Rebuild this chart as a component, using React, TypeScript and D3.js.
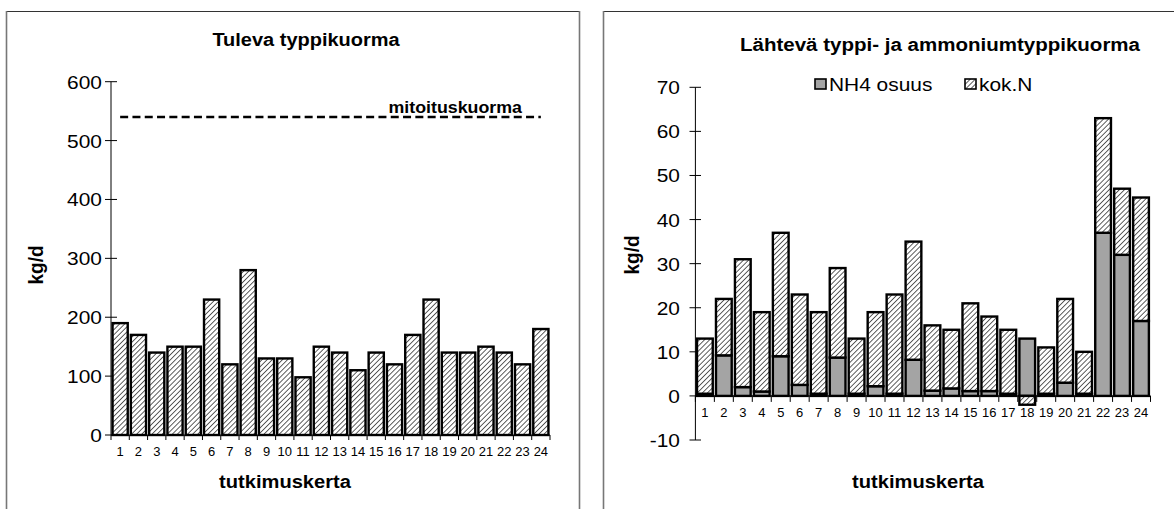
import React from 'react';
import * as d3 from 'd3';

// ---------- data ----------
const categories = ['1','2','3','4','5','6','7','8','9','10','11','12','13','14','15','16','17','18','19','20','21','22','23','24'];
const inflowLoad = [190,170,140,150,150,230,120,280,130,130,98,150,140,110,140,120,170,230,140,140,150,140,120,180];
const designLoad = 540;
const designLabel = 'mitoituskuorma';
const nh4Share = [0.5,9.2,2,1,9,2.5,0.5,8.7,0.5,2.2,0.5,8.2,1.2,1.7,1.1,1.1,0.5,13,0.5,3,0.5,37,32,17];
const totNRest = [12.5,12.8,29,18,28,20.5,18.5,20.3,12.5,16.8,22.5,26.8,14.8,13.3,19.9,16.9,14.5,-2,10.5,19,9.5,26,15,28];
const leftTicks = [0,100,200,300,400,500,600];
const rightTicks = [-10,0,10,20,30,40,50,60,70];
const leftTitle = 'Tuleva typpikuorma';
const rightTitle = 'Lähtevä typpi- ja ammoniumtyppikuorma';
const yTitle = 'kg/d';
const xTitle = 'tutkimuskerta';
const legendLabels = ['NH4 osuus', 'kok.N'];

const FONT = '"Liberation Sans", Arial, Helvetica, sans-serif';
const SX = 1.1;
const GRAY = '#a4a4a4';

function T({ x, y, size, bold = false, anchor = 'start', children, rotate = false, sx = SX }: any) {
  const tr = rotate
    ? `translate(${x},${y}) rotate(-90) scale(1,${sx})`
    : `translate(${x},${y}) scale(${sx},1)`;
  return (
    <text transform={tr} fontFamily={FONT} fontSize={size} fontWeight={bold ? 'bold' : 'normal'}
      textAnchor={anchor} fill="#000">{children}</text>
  );
}

export default function App() {
  // ---------- left chart ----------
  const lx = d3.scaleBand<string>().domain(categories).range([111, 550]).paddingInner(0.17).paddingOuter(0.085);
  const ly = d3.scaleLinear().domain([0, 600]).range([435, 81.7]);
  const lStep = lx.step();

  // ---------- right chart ----------
  const rx = d3.scaleBand<string>().domain(categories).range([695.4, 1150.5]).paddingInner(0.17).paddingOuter(0.085);
  const ry = d3.scaleLinear().domain([-10, 70]).range([440, 87.3]);
  const rStep = rx.step();

  const rows = categories.map((c, i) => ({ cat: c, nh4: nh4Share[i], kokN: totNRest[i] }));
  const stacked = d3.stack<any>().keys(['nh4', 'kokN']).offset(d3.stackOffsetDiverging)(rows);

  const line = d3.line<number>()
    .x((_, i) => (lx(categories[i]) as number) + lx.bandwidth() / 2)
    .y(d => ly(d));
  const designSeries = categories.map(() => designLoad);

  return (
    <svg width={1174} height={509} style={{ position: 'absolute', left: 0, top: 0, background: '#fff' }}>
      <defs>
        <pattern id="hatch" width="3.6" height="3.6" patternUnits="userSpaceOnUse" patternTransform="rotate(45)">
          <rect width="3.6" height="3.6" fill="#fff" />
          <line x1="0" y1="0" x2="0" y2="3.6" stroke="#2a2a2a" strokeWidth="1.5" />
        </pattern>
      </defs>
      <rect x={0} y={0} width={1174} height={509} fill="#fff" />

      {/* frames */}
      <line x1={6} y1={11.5} x2={580} y2={11.5} stroke="#333" strokeWidth={1} />
      <line x1={6.5} y1={11} x2={6.5} y2={520} stroke="#777" strokeWidth={1.6} />
      <line x1={579.5} y1={11} x2={579.5} y2={520} stroke="#777" strokeWidth={1.6} />
      <line x1={603} y1={11.5} x2={1180} y2={11.5} stroke="#333" strokeWidth={1} />
      <line x1={603.5} y1={11} x2={603.5} y2={520} stroke="#777" strokeWidth={1.6} />

      {/* ===== LEFT CHART ===== */}
      <T x={306} y={46} size={18.5} bold anchor="middle" sx={1.08}>{leftTitle}</T>
      {/* y axis */}
      <line x1={111} y1={ly(600)} x2={111} y2={ly(0)} stroke="#000" strokeWidth={1} />
      {leftTicks.map(t => (
        <g key={'lt' + t}>
          <line x1={105} x2={117} y1={ly(t)} y2={ly(t)} stroke="#000" strokeWidth={1} />
          <T x={102} y={ly(t) + 7} size={19} anchor="end">{t}</T>
        </g>
      ))}
      {/* bars */}
      {inflowLoad.map((v, i) => (
        <rect key={'lb' + i} x={lx(categories[i])} y={ly(v)} width={lx.bandwidth()} height={ly(0) - ly(v)}
          fill="url(#hatch)" stroke="#000" strokeWidth={2.4} />
      ))}
      {/* x axis */}
      <line x1={111} x2={550} y1={ly(0)} y2={ly(0)} stroke="#000" strokeWidth={1.2} />
      {d3.range(25).map(i => (
        <line key={'lxt' + i} x1={111 + i * lStep} x2={111 + i * lStep} y1={ly(0)} y2={ly(0) + 5} stroke="#000" strokeWidth={1} />
      ))}
      {categories.map(c => (
        <T key={'lxl' + c} x={(lx(c) as number) + lx.bandwidth() / 2} y={456} size={12} anchor="middle" sx={1.08}>{c}</T>
      ))}
      {/* design load */}
      <path d={line(designSeries) as string} fill="none" stroke="#000" strokeWidth={2.6} strokeDasharray="8,4.3" />
      <T x={522} y={113} size={16.5} bold anchor="end" sx={1.08}>{designLabel}</T>
      <T x={43} y={265} size={19} bold anchor="middle" rotate>{yTitle}</T>
      <T x={285} y={488} size={19} bold anchor="middle" sx={1.06}>{xTitle}</T>

      {/* ===== RIGHT CHART ===== */}
      <T x={940} y={51} size={19} bold anchor="middle" sx={1.08}>{rightTitle}</T>
      {/* legend */}
      <rect x={815} y={79} width={11} height={10} fill={GRAY} stroke="#000" strokeWidth={1.6} />
      <T x={829} y={91} size={19}>{legendLabels[0]}</T>
      <rect x={965} y={79} width={11} height={10} fill="url(#hatch)" stroke="#000" strokeWidth={1.6} />
      <T x={979} y={91} size={19}>{legendLabels[1]}</T>
      {/* y axis */}
      <line x1={695.4} y1={ry(70)} x2={695.4} y2={ry(-10)} stroke="#000" strokeWidth={1} />
      {rightTicks.map(t => (
        <g key={'rt' + t}>
          <line x1={689.5} x2={701} y1={ry(t)} y2={ry(t)} stroke="#000" strokeWidth={1} />
          <T x={680} y={ry(t) + 7} size={19} anchor="end">{t}</T>
        </g>
      ))}
      {/* stacked bars */}
      {stacked.map(series => series.map((d, i) => {
        const y0 = ry(Math.max(d[0], d[1]));
        const y1 = ry(Math.min(d[0], d[1]));
        if (y1 - y0 <= 0) return null;
        return (
          <rect key={series.key + i} x={rx(categories[i])} y={y0} width={rx.bandwidth()} height={y1 - y0}
            fill={series.key === 'nh4' ? GRAY : 'url(#hatch)'} stroke="#000" strokeWidth={2.4} />
        );
      }))}
      {/* x axis */}
      <line x1={695.4} x2={1150.5} y1={ry(0)} y2={ry(0)} stroke="#000" strokeWidth={1.2} />
      {d3.range(25).map(i => (
        <line key={'rxt' + i} x1={695.4 + i * rStep} x2={695.4 + i * rStep} y1={ry(0)} y2={ry(0) + 6} stroke="#000" strokeWidth={1} />
      ))}
      {categories.map(c => (
        <T key={'rxl' + c} x={(rx(c) as number) + rx.bandwidth() / 2} y={416.5} size={12} anchor="middle" sx={1.08}>{c}</T>
      ))}
      <T x={639} y={255} size={19} bold anchor="middle" rotate>{yTitle}</T>
      <T x={918} y={488} size={19} bold anchor="middle" sx={1.06}>{xTitle}</T>
    </svg>
  );
}
